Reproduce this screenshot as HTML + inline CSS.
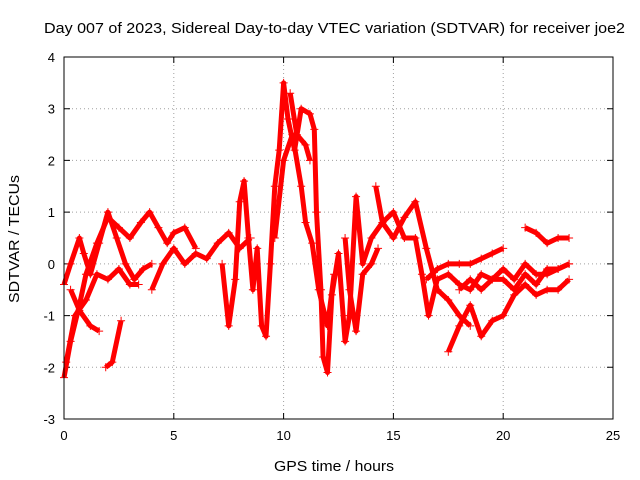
<!DOCTYPE html>
<html><head><meta charset="utf-8"><style>
html,body{margin:0;padding:0;background:#fff;}
svg{display:block;font-family:"Liberation Sans",sans-serif;}
</style></head><body>
<svg id="chart" width="640" height="480" xmlns="http://www.w3.org/2000/svg">
<rect width="640" height="480" fill="#fff"/>
<text x="44" y="33" font-size="15" textLength="581" lengthAdjust="spacingAndGlyphs">Day 007 of 2023, Sidereal Day-to-day VTEC variation (SDTVAR) for receiver joe2</text>
<g id="grid"></g>
<g id="axes"></g>
<g id="series"></g>
<rect x="64" y="57" width="549" height="362" fill="none" stroke="#000" stroke-width="1"/>
<text x="274" y="471" font-size="15" textLength="120" lengthAdjust="spacingAndGlyphs">GPS time / hours</text>
<text x="0" y="0" font-size="15" textLength="128" lengthAdjust="spacingAndGlyphs" text-anchor="middle" transform="translate(19,239) rotate(-90)">SDTVAR / TECUs</text>
</svg>
<script>
const xTicks=[0,5,10,15,20,25];
const yTicks=[-3,-2,-1,0,1,2,3,4];
const tracks=[
[[0,-2.2],[0.3,-1.5],[0.7,-0.8],[1.0,-0.2],[1.5,0.4],[2.0,0.9],[2.5,0.7],[3.0,0.5],[3.5,0.8],[3.9,1.0],[4.3,0.7],[4.7,0.4],[5.0,0.6],[5.5,0.7],[6.0,0.3]],
[[0,-0.4],[0.3,0],[0.7,0.5],[0.9,0.2],[1.2,-0.2],[1.6,0.4],[2.0,1.0],[2.4,0.5],[2.8,0],[3.2,-0.3],[3.6,-0.1],[4.0,0]],
[[0.1,-1.9],[0.5,-1.0],[1.0,-0.7],[1.5,-0.2],[2.0,-0.3],[2.5,-0.1],[3.0,-0.4],[3.4,-0.4]],
[[0.3,-0.5],[0.7,-0.9],[1.2,-1.2],[1.6,-1.3]],
[[1.9,-2.0],[2.2,-1.9],[2.6,-1.1]],
[[4.0,-0.5],[4.5,0],[5.0,0.3],[5.5,0],[6,0.2],[6.5,0.1],[7,0.4],[7.5,0.6],[8,0.3],[8.5,0.5]],
[[7.2,0],[7.5,-1.2],[7.8,-0.3],[8.0,1.2],[8.2,1.6],[8.4,0.5],[8.6,-0.5],[8.8,0.3],[9.0,-1.2],[9.2,-1.4],[9.4,0],[9.6,1.5],[9.8,2.2],[10.0,3.5],[10.2,2.8],[10.5,2.2],[10.8,3.0],[11.2,2.9],[11.4,2.6],[11.5,1.0],[11.7,-0.5],[11.8,-1.8],[12.0,-2.1],[12.2,-0.6],[12.5,0.2],[12.8,-1.5],[13.0,-1.0],[13.3,1.3],[13.6,0],[14,0.5],[14.5,0.8],[15,1.0],[15.5,0.5],[16,0.5],[16.3,-0.2],[16.6,-1.0],[17,-0.3],[17.5,-0.2],[18,-0.4],[18.5,-0.5],[19,-0.2],[19.5,-0.3],[20,-0.1],[20.5,-0.3],[21,0],[21.5,-0.2],[22,-0.2],[22.5,-0.1],[23,0]],
[[9.6,0.5],[10,2.0],[10.4,2.5],[10.8,1.5],[11.0,0.8],[11.3,0.4],[11.6,-0.5],[12,-1.2],[12.3,-0.2]],
[[10.3,3.3],[10.6,2.5],[11,2.3],[11.2,2.0]],
[[14.2,1.5],[14.5,0.8],[15,0.5],[15.5,0.9],[16,1.2],[16.5,0.3],[17,-0.5],[17.5,-0.7],[18,-1.0],[18.5,-1.2]],
[[17.5,-1.7],[18,-1.2],[18.5,-0.8],[19,-1.4],[19.5,-1.1],[20,-1.0],[20.5,-0.6],[21,-0.4],[21.5,-0.6],[22,-0.5],[22.5,-0.5],[23,-0.3]],
[[16.5,-0.3],[17,-0.1],[17.5,0],[18,0],[18.5,0],[19,0.1],[19.5,0.2],[20,0.3]],
[[21,0.7],[21.5,0.6],[22,0.4],[22.5,0.5],[23,0.5]],
[[18,-0.5],[18.5,-0.3],[19,-0.5],[19.5,-0.3],[20,-0.3],[20.5,-0.5],[21,-0.2],[21.5,-0.4],[22,-0.1],[22.5,-0.1],[23,0.0]],
[[12.8,0.5],[13,-0.5],[13.3,-1.3],[13.6,-0.2],[14,0],[14.3,0.3]]
];
const NS="http://www.w3.org/2000/svg";
const L=64,R=613,T=57,B=419;
function sx(v){return L+(v-0)/25*(R-L);}
function sy(v){return B-(v+3)/7*(B-T);}
function mk(tag,attrs,parent){const e=document.createElementNS(NS,tag);for(const k in attrs)e.setAttribute(k,attrs[k]);parent.appendChild(e);return e;}
const grid=document.getElementById('grid'),axes=document.getElementById('axes'),ser=document.getElementById('series');
xTicks.forEach(t=>{const x=sx(t);
 if(t>0&&t<25){const g=mk('line',{x1:x,x2:x,y1:T,y2:B,stroke:'#a0a0a0','stroke-dasharray':'1,3'},grid);
 
 }
 const tk=mk('path',{d:`M${x},${B}v-6M${x},${T}v6`,stroke:'#000'},axes);
 
 
 const lb=mk('text',{x:x,y:B+21,'font-size':13,'text-anchor':'middle'},axes);lb.textContent=t;
 
 
});
yTicks.forEach(t=>{const y=sy(t);
 if(t>-3&&t<4){const g=mk('line',{x1:L,x2:R,y1:y,y2:y,stroke:'#a0a0a0','stroke-dasharray':'1,3'},grid);
 
 }
 const tk=mk('path',{d:`M${L},${y}h6M${R},${y}h-6`,stroke:'#000'},axes);
 
 
 const lb=mk('text',{x:L-9,y:y+5,'font-size':13,'text-anchor':'end'},axes);lb.textContent=t;
 
 
});
tracks.forEach((tr,i)=>{
 const d=tr.map((p,j)=>(j?'L':'M')+sx(p[0]).toFixed(1)+','+sy(p[1]).toFixed(1)).join('');
 const pl=mk('path',{d:d,fill:'none',stroke:'#f00','stroke-width':5,'stroke-linejoin':'round'},ser);
 
 
 tr.forEach(p=>{const x=sx(p[0]),y=sy(p[1]);
  const m=mk('path',{d:`M${x-4},${y}h8M${x},${y-4}v8`,stroke:'#f00','stroke-width':1},ser);
  
  
 });
});
</script>
</body></html>
